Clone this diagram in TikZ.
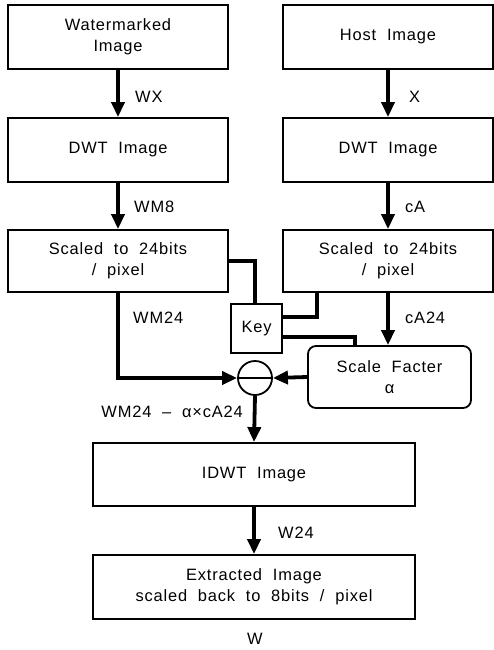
\documentclass[tikz,border=0pt]{standalone}
\usepackage{fontspec}
\setmainfont[WordSpace=2,LetterSpace=5]{Liberation Sans}
\usetikzlibrary{arrows.meta}
\begin{document}
\begin{tikzpicture}[x=1bp,y=-1bp,
  txt/.style={font=\fontsize{16.5}{21}\selectfont},
  box/.style={txt,draw,line width=1.8bp,rectangle,inner sep=0pt,align=center},
  conn/.style={line width=3.8bp},
  arr/.style={conn,-{Triangle[length=15bp,width=13bp]}},
  lbl/.style={txt,inner sep=0pt,anchor=west}]
\useasboundingbox (0,0) rectangle (494,650);
% boxes
\node[box,minimum width=220bp,minimum height=64bp] (wm) at (118,37) {Watermarked\\Image};
\node[box,minimum width=210bp,minimum height=64bp] (host) at (388,37) {Host Image};
\node[box,minimum width=220bp,minimum height=64bp] (dwt1) at (118,150) {DWT Image};
\node[box,minimum width=210bp,minimum height=64bp] (dwt2) at (388,150) {DWT Image};
\node[box,minimum width=220bp,minimum height=62bp] (sc1) at (118,261) {Scaled to 24bits\\/ pixel};
\node[box,minimum width=210bp,minimum height=62bp] (sc2) at (388,261) {Scaled to 24bits\\/ pixel};
\node[box,minimum width=51bp,minimum height=49bp] (key) at (256.5,328.5) {Key};
\node[box,rounded corners=8bp,minimum width=163bp,minimum height=62bp] (sf) at (389.5,377) {Scale Facter\\α};
\node[draw,circle,line width=1.8bp,minimum size=34bp,inner sep=0pt] (circ) at (255,378) {};
\node[box,minimum width=322bp,minimum height=63bp] (idwt) at (254,474.5) {IDWT Image};
\node[box,minimum width=322bp,minimum height=64bp] (ext) at (254,587) {Extracted Image\\scaled back to 8bits / pixel};
% circle diameter
\draw[line width=1.8bp] (circ.west) -- (circ.east);
% arrows
\draw[arr] (wm) -- (dwt1);
\draw[arr] (host) -- (dwt2);
\draw[arr] (dwt1) -- (sc1);
\draw[arr] (dwt2) -- (sc2);
\draw[conn] (sc1.east) -| ([xshift=-1.5bp]key.north);
\draw[conn] ([yshift=11.5bp]key.east) -| ([xshift=-71bp]sc2.south);
\draw[conn] ([yshift=-8.5bp]key.east) -| ([xshift=-34.5bp]sf.north);
\draw[arr] (sc2.south) -- (sc2.south |- sf.north);
\draw[arr] (sc1.south) |- (circ.west);
\draw[arr] (sf.west) -- (circ.east);
\draw[arr] (circ.south) -- (idwt.north);
\draw[arr] (idwt.south) -- (ext.north);
% labels
\node[lbl] (lwx) at (135,97) {WX};
\node[lbl] (lx) at (409,97) {X};
\node[lbl] (lwm8) at (134,207) {WM8};
\node[lbl] (lca) at (405,207) {cA};
\node[lbl] (lwm24) at (133,318) {WM24};
\node[lbl] (lca24) at (405,318) {cA24};
\node[txt,inner sep=0pt,anchor=east] (ldiff) at (243,412) {WM24 – α×cA24};
\node[lbl] (lw24) at (278,533) {W24};
\node[txt,inner sep=0pt] (lw) at (255,639) {W};
\end{tikzpicture}
\end{document}
